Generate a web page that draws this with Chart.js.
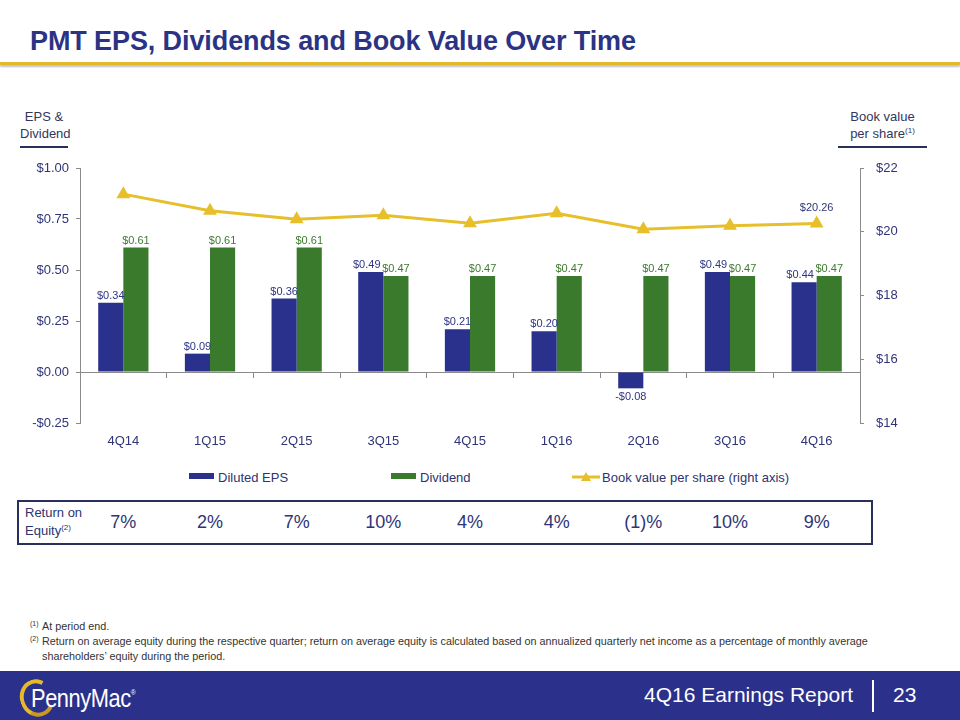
<!DOCTYPE html>
<html>
<head>
<meta charset="utf-8">
<title>PMT EPS, Dividends and Book Value Over Time</title>
<script src="https://cdn.jsdelivr.net/npm/chart.js@4.4.1/dist/chart.umd.min.js"></script>
<style>
  body { margin: 0; background: #fff; font-family: "Liberation Sans", Arial, sans-serif; }
  #slide { position: relative; width: 960px; height: 720px; overflow: hidden; background: #fff; }
  #title { position: absolute; left: 30px; top: 26px; font-size: 27px; font-weight: bold; color: #2b3384; letter-spacing: -0.1px; }
  #rule { position: absolute; left: 0; top: 62px; width: 960px; height: 3px; background: #e2b92c; box-shadow: 0 2px 2px rgba(0,0,0,0.25); }
  .axisTitle { position: absolute; font-size: 13px; line-height: 17px; color: #33365c; text-align: center; }
  .axisTitle .bar { height: 2px; background: #2b2f5c; margin-top: 4px; }
  sup { font-size: 8px; vertical-align: 5px; line-height: 0; }
  #chart { position: absolute; left: 0; top: 140px; }
  #legend { position: absolute; top: 469px; left: 0; width: 960px; height: 18px; font-size: 13px; color: #2e3370; }
  .lg { position: absolute; top: 1px; white-space: nowrap; }
  .sw { display: inline-block; width: 25px; height: 6px; vertical-align: 3px; margin-right: 4px; }
  #roe { position: absolute; left: 17px; top: 500px; width: 852px; height: 41px; border: 2px solid #2b2f5c; }
  #roeLabel { position: absolute; left: 6px; top: 2px; font-size: 13px; line-height: 18px; color: #2e3370; }
  .roeVal { position: absolute; top: 10px; font-size: 18px; color: #2e3577; transform: translateX(-50%); white-space: nowrap; }
  #notes { position: absolute; left: 30px; top: 619px; font-size: 10.8px; line-height: 15px; color: #333; }
  #notes div { position: relative; padding-left: 12px; }
  #notes sup { position: absolute; left: 0; top: 5px; font-size: 7px; }
  #footer { position: absolute; left: 0; top: 671px; width: 960px; height: 49px; background: #2b318b; color: #fff; }
  #report { position: absolute; right: 107px; top: 12px; font-size: 21px; }
  #divider { position: absolute; left: 872px; top: 9px; width: 2px; height: 32px; background: #fff; }
  #page { position: absolute; left: 893px; top: 12px; font-size: 21px; }
  #logo { position: absolute; left: 20px; top: 8px; width: 130px; height: 34px; }
  #ring { position: absolute; left: 0; top: 0; width: 26px; height: 30px; border-radius: 50%; border: 4px solid #e6b92b; border-right-color: transparent; border-bottom-color: #c99a1e; transform: rotate(-20deg); }
  #logoText { position: absolute; left: 11px; top: 4px; font-size: 26px; color: #fff; letter-spacing: -0.5px; transform: scaleX(0.84); transform-origin: left center; white-space: nowrap; }
  #logoText sup { font-size: 8px; vertical-align: 12px; }
</style>
</head>
<body>
<div id="slide">
  <div id="title">PMT EPS, Dividends and Book Value Over Time</div>
  <div id="rule"></div>

  <div class="axisTitle" style="left:20px; top:108px; width:48px;">EPS &amp;<br>Dividend<div class="bar"></div></div>
  <div class="axisTitle" style="left:838px; top:108px; width:89px;">Book value<br>per share<sup>(1)</sup><div class="bar"></div></div>

  <canvas id="chart" width="960" height="320"></canvas>

  <div id="legend">
    <span class="lg" style="left:189px;"><span class="sw" style="background:#2a318c;"></span>Diluted EPS</span>
    <span class="lg" style="left:391px;"><span class="sw" style="background:#3a7a2c;"></span>Dividend</span>
    <span class="lg" style="left:572px;"><canvas id="lineSwatch" width="28" height="12" style="vertical-align:-1px; margin-right:2px;"></canvas>Book value per share (right axis)</span>
  </div>

  <div id="roe">
    <div id="roeLabel">Return on<br>Equity<sup>(2)</sup></div>
  </div>

  <div id="notes">
    <div><sup>(1)</sup>At period end.</div>
    <div><sup>(2)</sup>Return on average equity during the respective quarter; return on average equity is calculated based on annualized quarterly net income as a percentage of monthly average<br>shareholders’ equity during the period.</div>
  </div>

  <div id="footer">
    <div id="logo"><div id="ring"></div><div id="logoText">PennyMac<sup>®</sup></div></div>
    <div id="report">4Q16 Earnings Report</div>
    <div id="divider"></div>
    <div id="page">23</div>
  </div>
</div>

<script>
// data
const quarters = ['4Q14', '1Q15', '2Q15', '3Q15', '4Q15', '1Q16', '2Q16', '3Q16', '4Q16'];
const dilutedEps = [0.34, 0.09, 0.36, 0.49, 0.21, 0.20, -0.08, 0.49, 0.44];
const dividends = [0.61, 0.61, 0.61, 0.47, 0.47, 0.47, 0.47, 0.47, 0.47];
const bookValue = [21.18, 20.66, 20.39, 20.52, 20.27, 20.58, 20.08, 20.19, 20.26];
const returnOnEquity = ['7%', '2%', '7%', '10%', '4%', '4%', '(1)%', '10%', '9%'];
const epsAxis = { min: -0.25, max: 1.0, step: 0.25 };
const bookAxis = { min: 14, max: 22, step: 2 };

const NAVY = '#2a318c';
const GREEN = '#3a7a2c';
const GOLD = '#e6bf2a';
const AXIS = '#8a8a8a';
const TEXT = '#2f3577';

function money(v, digits) {
  const s = '$' + Math.abs(v).toFixed(digits);
  return v < 0 ? '-' + s : s;
}

// value labels over the bars and the last book value point
const valueLabels = {
  id: 'valueLabels',
  afterDatasetsDraw(chart) {
    const ctx = chart.ctx;
    const epsMeta = chart.getDatasetMeta(1);
    const divMeta = chart.getDatasetMeta(2);
    ctx.save();
    ctx.font = '11px "Liberation Sans", Arial, sans-serif';
    ctx.textAlign = 'center';
    ctx.textBaseline = 'middle';
    chart.data.datasets.forEach(function (ds, i) {
      const meta = chart.getDatasetMeta(i);
      if (ds.type === 'line') {
        const last = meta.data.length - 1;
        const pt = meta.data[last];
        ctx.fillStyle = TEXT;
        ctx.fillText(money(ds.data[last], 2), pt.x, pt.y - 15);
        return;
      }
      ctx.fillStyle = ds.labelColor;
      meta.data.forEach(function (bar, j) {
        const v = ds.data[j];
        const y = v >= 0 ? bar.y - 7 : bar.y + 9;
        let dx = 0;
        // EPS label steps aside when it would run into the dividend label
        if (i === 1 && Math.abs(epsMeta.data[j].y - divMeta.data[j].y) < 14) dx = -4;
        ctx.fillText(money(v, 2), bar.x + dx, y);
      });
    });
    ctx.restore();
  }
};

const chart = new Chart(document.getElementById('chart').getContext('2d'), {
  type: 'bar',
  data: {
    labels: quarters,
    datasets: [
      {
        type: 'line',
        label: 'Book value per share (right axis)',
        data: bookValue,
        yAxisID: 'y1',
        borderColor: GOLD,
        backgroundColor: GOLD,
        borderWidth: 3,
        pointStyle: 'triangle',
        pointRadius: 5,
        pointBackgroundColor: GOLD,
        pointBorderColor: GOLD,
        tension: 0,
        order: 0
      },
      {
        label: 'Diluted EPS',
        data: dilutedEps,
        backgroundColor: NAVY,
        labelColor: '#2e3585',
        yAxisID: 'y',
        categoryPercentage: 0.58,
        barPercentage: 1.0,
        order: 1
      },
      {
        label: 'Dividend',
        data: dividends,
        backgroundColor: GREEN,
        labelColor: '#3d7a2e',
        yAxisID: 'y',
        categoryPercentage: 0.58,
        barPercentage: 1.0,
        order: 1
      }
    ]
  },
  options: {
    responsive: false,
    animation: false,
    layout: { padding: { top: 28, left: 0, right: 0, bottom: 0 } },
    plugins: {
      legend: { display: false },
      tooltip: { enabled: false }
    },
    scales: {
      x: {
        position: 'bottom',
        grid: { display: false, drawTicks: false },
        border: { display: false },
        ticks: { color: TEXT, font: { size: 13, family: '"Liberation Sans", Arial, sans-serif' }, padding: 11 },
        afterFit: function (s) { s.height = 37; }
      },
      x2: {
        type: 'category',
        axis: 'x',
        labels: quarters,
        position: { y: 0 },
        offset: true,
        grid: { display: true, offset: true, drawOnChartArea: false, tickLength: 5, color: AXIS },
        border: { display: true, color: AXIS, width: 1 },
        ticks: { display: false }
      },
      y: {
        position: 'left',
        min: epsAxis.min,
        max: epsAxis.max,
        grid: { drawOnChartArea: false, tickLength: 4, color: AXIS },
        border: { color: AXIS },
        ticks: {
          stepSize: epsAxis.step,
          color: TEXT,
          padding: 7,
          font: { size: 13, family: '"Liberation Sans", Arial, sans-serif' },
          callback: function (v) { return money(v, 2); }
        },
        afterFit: function (s) { s.width = 80; }
      },
      y1: {
        position: 'right',
        min: bookAxis.min,
        max: bookAxis.max,
        grid: { drawOnChartArea: false, tickLength: 4, color: AXIS },
        border: { color: AXIS },
        ticks: {
          stepSize: bookAxis.step,
          color: TEXT,
          padding: 12,
          font: { size: 13, family: '"Liberation Sans", Arial, sans-serif' },
          callback: function (v) { return '$' + v; }
        },
        afterFit: function (s) { s.width = 100; }
      }
    }
  },
  plugins: [valueLabels]
});

// return on equity row, lined up with the quarter columns
const roeBox = document.getElementById('roe');
const roeLeft = 17 + 2;
returnOnEquity.forEach(function (txt, i) {
  const el = document.createElement('div');
  el.className = 'roeVal';
  el.textContent = txt;
  el.style.left = (chart.scales.x.getPixelForValue(i) - roeLeft) + 'px';
  roeBox.appendChild(el);
});

// legend swatch for the line series
const sw = document.getElementById('lineSwatch').getContext('2d');
sw.strokeStyle = GOLD;
sw.lineWidth = 3;
sw.beginPath(); sw.moveTo(0, 6); sw.lineTo(28, 6); sw.stroke();
sw.fillStyle = GOLD;
sw.beginPath(); sw.moveTo(14, 1); sw.lineTo(19, 10); sw.lineTo(9, 10); sw.closePath(); sw.fill();
</script>
</body>
</html>
